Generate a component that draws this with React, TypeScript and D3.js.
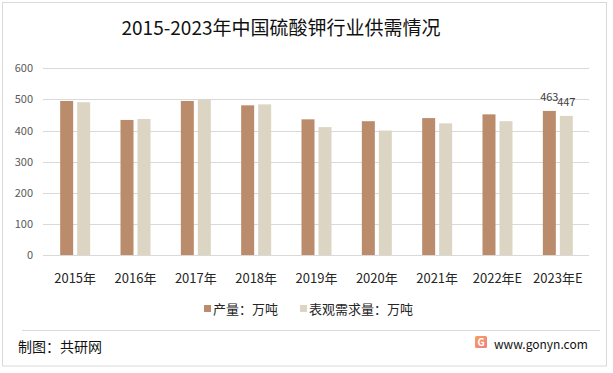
import { useRef, useEffect } from 'react';
import * as d3 from 'd3';

const years = ['2015年', '2016年', '2017年', '2018年', '2019年', '2020年', '2021年', '2022年E', '2023年E'];
const production = [495, 434, 495, 481, 436, 430, 440, 452, 463];
const demand = [491, 437, 500, 484, 411, 400, 423, 430, 447];
const yTicks = [0, 100, 200, 300, 400, 500, 600];
const seriesNames = ['产量：万吨', '表观需求量：万吨'];
const colors = ['#BB8C6B', '#DDD5C3'];

const FONT = '"Noto Sans CJK SC", "Microsoft YaHei", sans-serif';

const App = () => {
  const svgRef = useRef(null);

  useEffect(() => {
    const svg = d3.select(svgRef.current);
    svg.selectAll('*').remove();
    const width = 613;
    const height = 373;

    svg.attr('width', width).attr('height', height).style('font-family', FONT);

    svg.append('rect')
      .attr('x', 2.5).attr('y', 2.5)
      .attr('width', 604).attr('height', 363.5)
      .attr('fill', '#fff')
      .attr('stroke', '#d9d9d9');

    svg.append('text')
      .attr('x', 281).attr('y', 35)
      .attr('text-anchor', 'middle')
      .attr('font-size', 19)
      .attr('fill', '#111')
      .text('2015-2023年中国硫酸钾行业供需情况');

    const x = d3.scaleBand().domain(years).range([45, 588]);
    const y = d3.scaleLinear().domain([0, 600]).range([255, 68.3]);

    // grid + y labels
    svg.append('g')
      .selectAll('line')
      .data(yTicks)
      .join('line')
      .attr('x1', 43).attr('x2', 589)
      .attr('y1', d => Math.round(y(d)) + 0.5)
      .attr('y2', d => Math.round(y(d)) + 0.5)
      .attr('stroke', '#d9d9d9');

    svg.append('g')
      .selectAll('text')
      .data(yTicks)
      .join('text')
      .attr('x', 33)
      .attr('y', d => y(d) + 4)
      .attr('text-anchor', 'end')
      .attr('font-size', 11)
      .attr('fill', '#595959')
      .text(d => d);

    const barW = 13;
    const gap = 4;
    const series = [production, demand];

    series.forEach((vals, s) => {
      svg.append('g')
        .selectAll('rect')
        .data(vals)
        .join('rect')
        .attr('x', (d, i) => x(years[i]) + x.bandwidth() / 2 - barW - gap / 2 + s * (barW + gap))
        .attr('y', d => y(d))
        .attr('width', barW)
        .attr('height', d => y(0) - y(d))
        .attr('fill', colors[s]);
    });

    // data labels on last category only
    const last = years.length - 1;
    series.forEach((vals, s) => {
      svg.append('text')
        .attr('x', x(years[last]) + x.bandwidth() / 2 - barW / 2 - gap / 2 + s * (barW + gap))
        .attr('y', y(vals[last]) - 9.5)
        .attr('text-anchor', 'middle')
        .attr('font-size', 11)
        .attr('fill', '#404040')
        .text(vals[last]);
    });

    // category labels
    svg.append('g')
      .selectAll('text')
      .data(years)
      .join('text')
      .attr('x', d => x(d) + x.bandwidth() / 2)
      .attr('y', 283)
      .attr('text-anchor', 'middle')
      .attr('font-size', 13)
      .attr('fill', '#262626')
      .text(d => d);

    // legend
    const legendX = [204, 300];
    seriesNames.forEach((name, i) => {
      svg.append('rect')
        .attr('x', legendX[i]).attr('y', 305)
        .attr('width', 7).attr('height', 7)
        .attr('fill', colors[i]);
      svg.append('text')
        .attr('x', legendX[i] + 9).attr('y', 314)
        .attr('font-size', 13)
        .attr('fill', '#262626')
        .text(name);
    });

    // footer
    svg.append('line')
      .attr('x1', 22).attr('x2', 600)
      .attr('y1', 330.5).attr('y2', 330.5)
      .attr('stroke', '#d9d9d9');

    svg.append('text')
      .attr('x', 18).attr('y', 352)
      .attr('font-size', 14)
      .attr('fill', '#111')
      .text('制图：共研网');

    const grad = svg.append('defs').append('linearGradient')
      .attr('id', 'logoGrad')
      .attr('x1', 0).attr('y1', 0).attr('x2', 1).attr('y2', 1);
    grad.append('stop').attr('offset', 0).attr('stop-color', '#F6A15A');
    grad.append('stop').attr('offset', 1).attr('stop-color', '#F07C8C');

    svg.append('rect')
      .attr('x', 475).attr('y', 336)
      .attr('width', 12).attr('height', 12)
      .attr('rx', 1.5)
      .attr('fill', 'url(#logoGrad)');
    svg.append('text')
      .attr('x', 481).attr('y', 345.5)
      .attr('text-anchor', 'middle')
      .attr('font-size', 10)
      .attr('font-weight', 700)
      .attr('fill', '#fff')
      .text('G');

    svg.append('text')
      .attr('x', 494).attr('y', 349)
      .attr('font-size', 12)
      .attr('fill', '#111')
      .text('www.gonyn.com');
  }, []);

  return (
    <div style={{ position: 'absolute', left: 0, top: 0 }}>
      <svg ref={svgRef} style={{ display: 'block' }}></svg>
    </div>
  );
};

export default App;
